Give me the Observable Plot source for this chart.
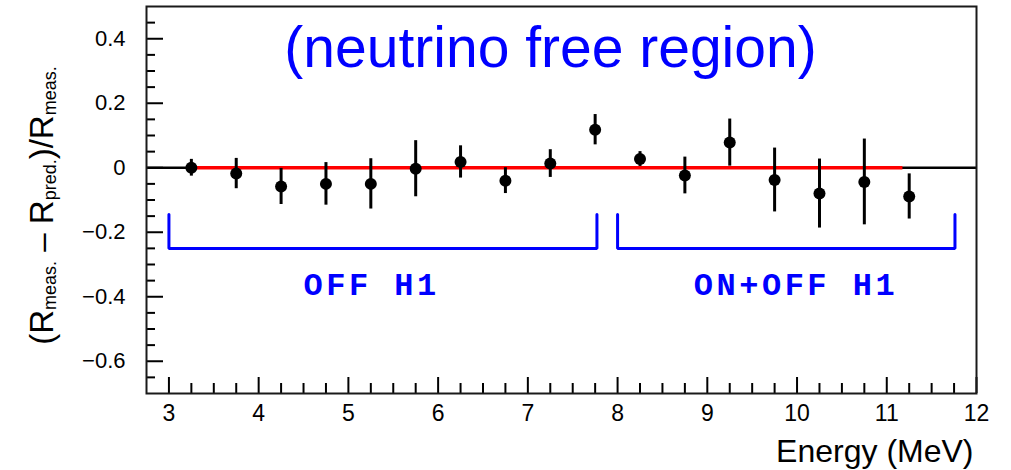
<!DOCTYPE html>
<html>
<head>
<meta charset="utf-8">
<script src="https://cdn.jsdelivr.net/npm/d3@7"></script>
<script src="https://cdn.jsdelivr.net/npm/@observablehq/plot@0.6"></script>
<style>
  html, body { margin: 0; padding: 0; background: #fff; }
  #chart svg { display: block; }
</style>
</head>
<body>
<div id="chart"></div>
<script>
// Residuals (R_meas - R_pred)/R_meas per 0.5 MeV energy bin
const energy = [3.25, 3.75, 4.25, 4.75, 5.25, 5.75, 6.25, 6.75, 7.25, 7.75, 8.25, 8.75, 9.25, 9.75, 10.25, 10.75, 11.25];
const residual = [0.0, -0.018, -0.058, -0.05, -0.05, -0.003, 0.018, -0.04, 0.013, 0.118, 0.027, -0.024, 0.078, -0.038, -0.08, -0.044, -0.089];
const error = [0.026, 0.047, 0.056, 0.066, 0.078, 0.087, 0.05, 0.04, 0.043, 0.047, 0.023, 0.057, 0.073, 0.099, 0.107, 0.133, 0.07];

// Energy range of the fitted (red) zero line
const fitRange = [3.25, 11.18];

// Reactor-condition brackets
const bracketNames = ["OFF H1", "ON+OFF H1"];
const bracketStart = [3.0, 8.0];
const bracketEnd = [7.77, 11.76];
const bracketTop = -0.145;
const bracketBottom = -0.25;
const bracketLabelEnergy = [4.5, 8.85];
const bracketLabelLevel = -0.394;

// Axis ticks
const xMajor = [3, 4, 5, 6, 7, 8, 9, 10, 11, 12];
const yMajor = [-0.6, -0.4, -0.2, 0, 0.2, 0.4];
const xMinor = d3.range(3, 12, 0.25).filter(v => !Number.isInteger(v));
const yMinor = d3.range(-0.65, 0.5, 0.05).map(v => +v.toFixed(2)).filter(v => Math.abs(Math.round(v * 5) - v * 5) > 1e-6);

const title = "(neutrino free region)";
const xTitle = "Energy (MeV)";

const width = 1011, height = 470;
const margin = {top: 6, right: 35, bottom: 77, left: 146};
const frameW = width - margin.left - margin.right;
const frameH = height - margin.top - margin.bottom;

const points = energy.map((e, i) => ({energy: e, value: residual[i], err: error[i]}));
const bracketPaths = bracketStart.flatMap((s, i) => [
  {id: i, x: s, y: bracketTop},
  {id: i, x: s, y: bracketBottom},
  {id: i, x: bracketEnd[i], y: bracketBottom},
  {id: i, x: bracketEnd[i], y: bracketTop}
]);
const bracketLabels = bracketNames.map((name, i) => ({name, x: bracketLabelEnergy[i], y: bracketLabelLevel}));

const yFormat = d => d === 0 ? "0" : d3.format(".1f")(d);

const plot = Plot.plot({
  width, height,
  marginTop: margin.top, marginRight: margin.right, marginBottom: margin.bottom, marginLeft: margin.left,
  x: {domain: [2.75, 12]},
  y: {domain: [-0.7, 0.5]},
  style: {fontFamily: "'Liberation Sans', Arial, sans-serif", background: "#fff", color: "#000"},
  marks: [
    // zero reference and fitted line
    Plot.ruleY([0], {stroke: "#000", strokeWidth: 2.5}),
    Plot.ruleY([{y: 0, x1: fitRange[0], x2: fitRange[1]}], {y: "y", x1: "x1", x2: "x2", stroke: "#ff0000", strokeWidth: 3.5}),
    // brackets
    Plot.line(bracketPaths, {x: "x", y: "y", z: "id", stroke: "#0000ff", strokeWidth: 3, strokeLinejoin: "miter", curve: "linear"}),
    Plot.text(bracketLabels, {x: "x", y: "y", text: "name", textAnchor: "start", lineAnchor: "bottom",
      fontFamily: "'Liberation Mono', 'Courier New', monospace", fontWeight: "bold", fontSize: 32, fill: "#0000ff"}),
    // measurements
    Plot.ruleX(points, {x: "energy", y1: d => d.value - d.err, y2: d => d.value + d.err, stroke: "#000", strokeWidth: 3}),
    Plot.dot(points, {x: "energy", y: "value", r: 6, fill: "#000"}),
    // inward ticks
    Plot.tickX(xMajor, {x: d => d, stroke: "#000", strokeWidth: 2, insetTop: frameH - 16}),
    Plot.tickX(xMinor, {x: d => d, stroke: "#000", strokeWidth: 2, insetTop: frameH - 10}),
    Plot.tickY(yMajor, {y: d => d, stroke: "#000", strokeWidth: 2, insetRight: frameW - 17}),
    Plot.tickY(yMinor, {y: d => d, stroke: "#000", strokeWidth: 2, insetRight: frameW - 9}),
    // tick labels
    Plot.axisX(xMajor, {tickSize: 0, tickPadding: 11, fontSize: 23, label: null, tickFormat: d => String(d)}),
    Plot.axisY(yMajor, {tickSize: 0, tickPadding: 21, fontSize: 22, label: null, tickFormat: yFormat}),
    Plot.frame({stroke: "#1a1a1a", strokeWidth: 2}),
    // titles
    Plot.text([title], {text: d => d, frameAnchor: "top", lineAnchor: "bottom", dy: 60.7, dx: -11, fontSize: 57, fill: "#0000ff"}),
    Plot.text([xTitle], {text: d => d, frameAnchor: "bottom-right", textAnchor: "end", lineAnchor: "bottom", dy: 68.7, dx: -3, fontSize: 32, fill: "#000"})
  ]
});

const svg = d3.select(plot);
// wide monospaced spacing for the bracket captions
svg.selectAll("text")
  .filter(function() { return bracketNames.includes(this.textContent); })
  .style("letter-spacing", "3.5px");

// rotated y-axis title with subscripts
const yl = svg.append("text")
  .attr("transform", `translate(53, ${margin.top + frameH / 2 + 6}) rotate(-90)`)
  .attr("text-anchor", "middle")
  .attr("font-size", 33)
  .attr("fill", "#000")
  .style("white-space", "pre");
yl.append("tspan").text("(R");
yl.append("tspan").attr("font-size", 18).attr("dy", 3).text("meas.");
yl.append("tspan").attr("dy", -3).text(" – R");
yl.append("tspan").attr("font-size", 18).attr("dy", 3).text("pred.");
yl.append("tspan").attr("dy", -3).text(")/R");
yl.append("tspan").attr("font-size", 18).attr("dy", 3).text("meas.");

document.getElementById("chart").append(plot);
</script>
</body>
</html>
